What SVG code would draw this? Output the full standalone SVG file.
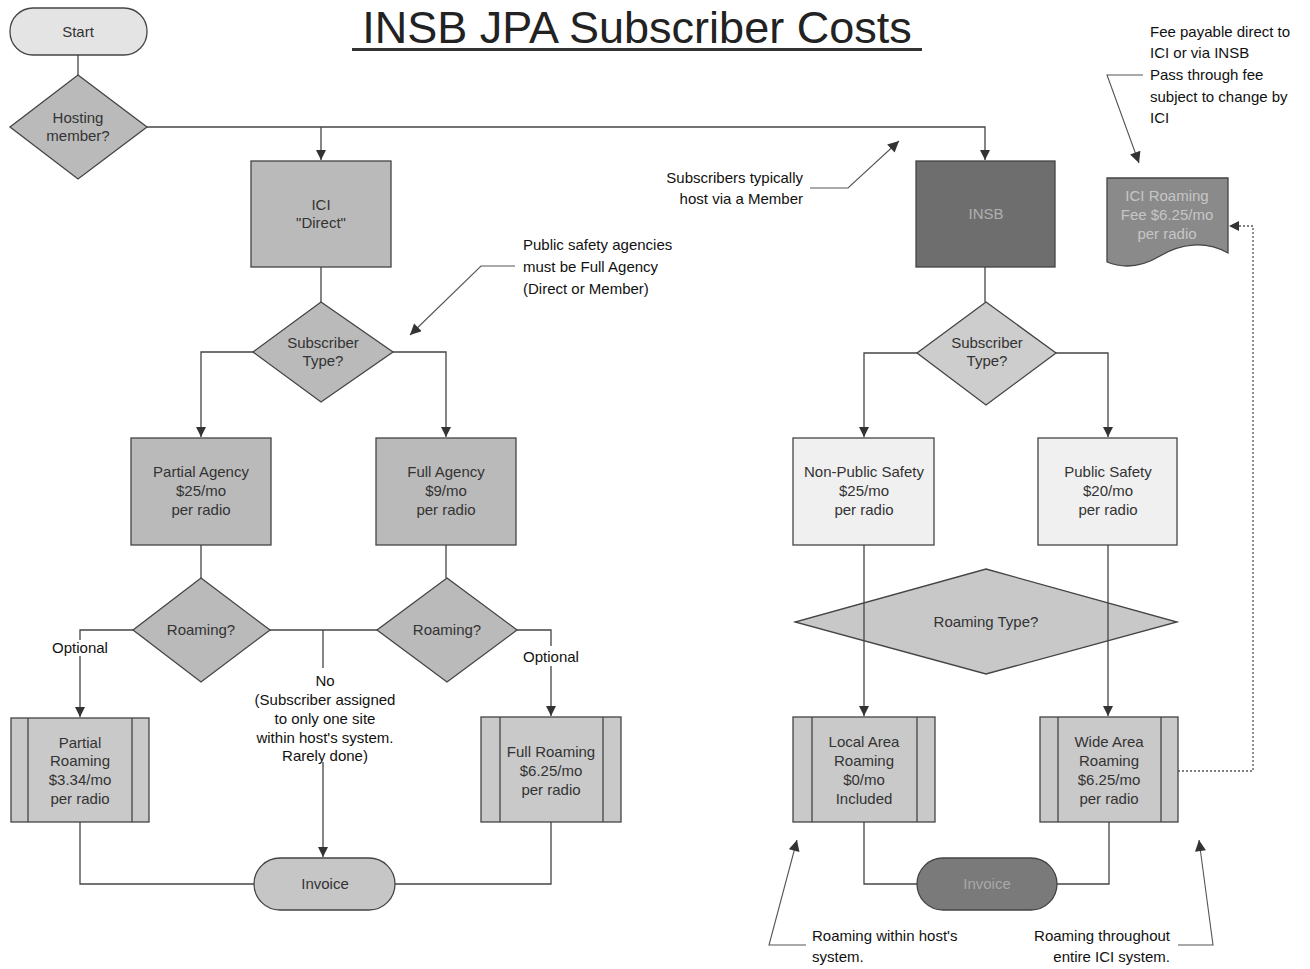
<svg xmlns="http://www.w3.org/2000/svg" width="1310" height="969" viewBox="0 0 1310 969">
<defs>
<marker id="ah" viewBox="0 0 10 10" refX="10" refY="5" markerWidth="10" markerHeight="10" markerUnits="userSpaceOnUse" orient="auto">
<path d="M0,0 L10,5 L0,10 Z" fill="#333"/>
</marker>
<marker id="ahb" viewBox="0 0 10 10" refX="10" refY="5" markerWidth="13" markerHeight="11" markerUnits="userSpaceOnUse" orient="auto">
<path d="M0,0 L10,5 L0,10 Z" fill="#333"/>
</marker>
</defs>
<style>
text{font-family:"Liberation Sans",Arial,sans-serif;}
.n{font-size:15px;fill:#333;text-anchor:middle;}
.nl{font-size:15px;fill:#bcbcbc;text-anchor:middle;}
.a{font-size:15px;fill:#111;}
.s{stroke:#444;stroke-width:1.3;}
.c{fill:none;stroke:#444;stroke-width:1.3;}
.ca{fill:none;stroke:#444;stroke-width:1.3;marker-end:url(#ah);}
.ld{fill:none;stroke:#555;stroke-width:1.1;marker-end:url(#ahb);}
.g1{fill:#bababa;}
.g2{fill:#c9c9c9;}
.g3{fill:#f0f0f0;}
</style>
<rect width="1310" height="969" fill="#fff"/>

<g id="title">
<text x="637" y="43" font-size="45" fill="#222" text-anchor="middle">INSB JPA Subscriber Costs</text>
<line x1="352" y1="49.5" x2="922" y2="49.5" stroke="#333" stroke-width="3"/>
</g>

<g id="connectors">
<line class="c" x1="78" y1="55" x2="78" y2="75"/>
<polyline class="ca" points="147,127 985,127 985,160"/>
<line class="ca" x1="321" y1="127" x2="321" y2="160"/>
<line class="c" x1="321" y1="267" x2="321" y2="302"/>
<polyline class="ca" points="253,352 201,352 201,437"/>
<polyline class="ca" points="393,352 446,352 446,437"/>
<line class="c" x1="201" y1="545" x2="201" y2="578"/>
<line class="c" x1="446" y1="545" x2="446" y2="578"/>
<polyline class="c" points="133,630 80,630 80,640"/>
<line class="ca" x1="80" y1="656" x2="80" y2="717"/>
<line class="c" x1="270" y1="630" x2="377" y2="630"/>
<line class="c" x1="323" y1="630" x2="323" y2="668"/>
<line class="ca" x1="323" y1="762" x2="323" y2="857"/>
<polyline class="c" points="517,630 551,630 551,646"/>
<line class="ca" x1="551" y1="666" x2="551" y2="716"/>
<polyline class="c" points="80,822 80,884 254,884"/>
<polyline class="c" points="551,822 551,884 395,884"/>
<line class="c" x1="985" y1="267" x2="985" y2="302"/>
<polyline class="ca" points="917,353 864,353 864,437"/>
<polyline class="ca" points="1056,353 1108,353 1108,437"/>
<polyline class="c" points="864,822 864,884 917,884"/>
<polyline class="c" points="1109,822 1109,884 1057,884"/>
<polyline points="1178,771 1253,771 1253,226 1229,226" fill="none" stroke="#555" stroke-width="1.3" stroke-dasharray="2,2" marker-end="url(#ah)"/>
</g>

<g id="start">
<rect class="s" x="10" y="8" width="137" height="47" rx="23" fill="#e4e4e4"/>
<text class="n" x="78" y="37">Start</text>
</g>

<g id="hosting">
<polygon class="s g1" points="78,75 147,127 78,179 10,127"/>
<text class="n" x="78" y="123">Hosting</text>
<text class="n" x="78" y="141">member?</text>
</g>

<g id="ici">
<rect class="s g1" x="251" y="161" width="140" height="106"/>
<text class="n" x="321" y="210">ICI</text>
<text class="n" x="321" y="228">"Direct"</text>
</g>

<g id="sub1">
<polygon class="s g1" points="321,302 393,352 321,402 253,352"/>
<text class="n" x="323" y="348">Subscriber</text>
<text class="n" x="323" y="366">Type?</text>
</g>

<g id="partial">
<rect class="s g1" x="131" y="438" width="140" height="107"/>
<text class="n" x="201" y="477">Partial Agency</text>
<text class="n" x="201" y="496">$25/mo</text>
<text class="n" x="201" y="515">per radio</text>
</g>

<g id="full">
<rect class="s g1" x="376" y="438" width="140" height="107"/>
<text class="n" x="446" y="477">Full Agency</text>
<text class="n" x="446" y="496">$9/mo</text>
<text class="n" x="446" y="515">per radio</text>
</g>

<g id="roam1">
<polygon class="s g1" points="201,578 270,630 201,682 133,630"/>
<text class="n" x="201" y="635">Roaming?</text>
</g>

<g id="roam2">
<polygon class="s g1" points="447,578 517,630 447,682 377,630"/>
<text class="n" x="447" y="635">Roaming?</text>
</g>

<g id="labels">
<text class="a" x="80" y="653" text-anchor="middle">Optional</text>
<text class="a" x="551" y="662" text-anchor="middle">Optional</text>
<text class="a" x="325" y="686" text-anchor="middle">No</text>
<text class="a" x="325" y="705" text-anchor="middle">(Subscriber assigned</text>
<text class="a" x="325" y="724" text-anchor="middle">to only one site</text>
<text class="a" x="325" y="743" text-anchor="middle">within host's system.</text>
<text class="a" x="325" y="761" text-anchor="middle">Rarely done)</text>
</g>

<g id="proam">
<rect class="s g2" x="11" y="718" width="138" height="104"/>
<line class="s" x1="28" y1="718" x2="28" y2="822"/>
<line class="s" x1="132" y1="718" x2="132" y2="822"/>
<text class="n" x="80" y="748">Partial</text>
<text class="n" x="80" y="766">Roaming</text>
<text class="n" x="80" y="785">$3.34/mo</text>
<text class="n" x="80" y="804">per radio</text>
</g>

<g id="froam">
<rect class="s g2" x="481" y="717" width="140" height="105"/>
<line class="s" x1="500" y1="717" x2="500" y2="822"/>
<line class="s" x1="603" y1="717" x2="603" y2="822"/>
<text class="n" x="551" y="757">Full Roaming</text>
<text class="n" x="551" y="776">$6.25/mo</text>
<text class="n" x="551" y="795">per radio</text>
</g>

<g id="invoice1">
<rect class="s" x="254" y="858" width="141" height="52" rx="26" fill="#c6c6c6"/>
<text class="n" x="325" y="889">Invoice</text>
</g>

<g id="insb">
<rect class="s" x="916" y="161" width="139" height="106" fill="#6e6e6e"/>
<text class="nl" x="986" y="219" style="fill:#b0b0b0">INSB</text>
</g>

<g id="sub2">
<polygon class="s" points="986,302 1056,353 986,405 917,353" fill="#cdcdcd"/>
<text class="n" x="987" y="348">Subscriber</text>
<text class="n" x="987" y="366">Type?</text>
</g>

<g id="nonps">
<rect class="s g3" x="793" y="438" width="141" height="107"/>
<text class="n" x="864" y="477">Non-Public Safety</text>
<text class="n" x="864" y="496">$25/mo</text>
<text class="n" x="864" y="515">per radio</text>
</g>

<g id="ps">
<rect class="s g3" x="1038" y="438" width="139" height="107"/>
<text class="n" x="1108" y="477">Public Safety</text>
<text class="n" x="1108" y="496">$20/mo</text>
<text class="n" x="1108" y="515">per radio</text>
</g>

<g id="roamtype">
<polygon class="s" points="986,569 1177,622 986,674 795,622" fill="#c8c8c8"/>
<text class="n" x="986" y="627">Roaming Type?</text>
</g>

<g id="connectors-over">
<line class="c" x1="864" y1="545" x2="864" y2="580"/>
<line class="ca" x1="864" y1="580" x2="864" y2="716"/>
<line class="c" x1="1108" y1="545" x2="1108" y2="580"/>
<line class="ca" x1="1108" y1="580" x2="1108" y2="716"/>
</g>

<g id="local">
<rect class="s g2" x="793" y="717" width="142" height="105"/>
<line class="s" x1="812" y1="717" x2="812" y2="822"/>
<line class="s" x1="917" y1="717" x2="917" y2="822"/>
<text class="n" x="864" y="747">Local Area</text>
<text class="n" x="864" y="766">Roaming</text>
<text class="n" x="864" y="785">$0/mo</text>
<text class="n" x="864" y="804">Included</text>
</g>

<g id="wide">
<rect class="s g2" x="1040" y="717" width="138" height="105"/>
<line class="s" x1="1058" y1="717" x2="1058" y2="822"/>
<line class="s" x1="1161" y1="717" x2="1161" y2="822"/>
<text class="n" x="1109" y="747">Wide Area</text>
<text class="n" x="1109" y="766">Roaming</text>
<text class="n" x="1109" y="785">$6.25/mo</text>
<text class="n" x="1109" y="804">per radio</text>
</g>

<g id="invoice2">
<rect class="s" x="917" y="858" width="140" height="52" rx="26" fill="#7a7a7a"/>
<text class="nl" x="987" y="889" style="fill:#a8a8a8">Invoice</text>
</g>

<g id="icifee">
<path class="s" d="M1107,178 H1228 V253 C1205,240 1180,244 1160,256 C1140,268 1122,268 1107,262 Z" fill="#8a8a8a"/>
<text class="nl" x="1167" y="201" style="fill:#c6c6c6">ICI Roaming</text>
<text class="nl" x="1167" y="220" style="fill:#c6c6c6">Fee $6.25/mo</text>
<text class="nl" x="1167" y="239" style="fill:#c6c6c6">per radio</text>
</g>

<g id="annotations">
<text class="a" x="803" y="183" text-anchor="end">Subscribers typically</text>
<text class="a" x="803" y="204" text-anchor="end">host via a Member</text>
<polyline class="ld" points="810,188 848,188 899,141"/>

<text class="a" x="523" y="250">Public safety agencies</text>
<text class="a" x="523" y="272">must be Full Agency</text>
<text class="a" x="523" y="294">(Direct or Member)</text>
<polyline class="ld" points="515,266 481,266 410,335"/>

<text class="a" x="1150" y="37">Fee payable direct to</text>
<text class="a" x="1150" y="58">ICI or via INSB</text>
<text class="a" x="1150" y="80">Pass through fee</text>
<text class="a" x="1150" y="102">subject to change by</text>
<text class="a" x="1150" y="123">ICI</text>
<polyline class="ld" points="1143,75 1107,75 1139,163"/>

<text class="a" x="812" y="941">Roaming within host's</text>
<text class="a" x="812" y="962">system.</text>
<polyline class="ld" points="806,945 769,945 797,840"/>

<text class="a" x="1170" y="941" text-anchor="end">Roaming throughout</text>
<text class="a" x="1170" y="962" text-anchor="end">entire ICI system.</text>
<polyline class="ld" points="1178,945 1213,945 1199,840"/>
</g>
</svg>
